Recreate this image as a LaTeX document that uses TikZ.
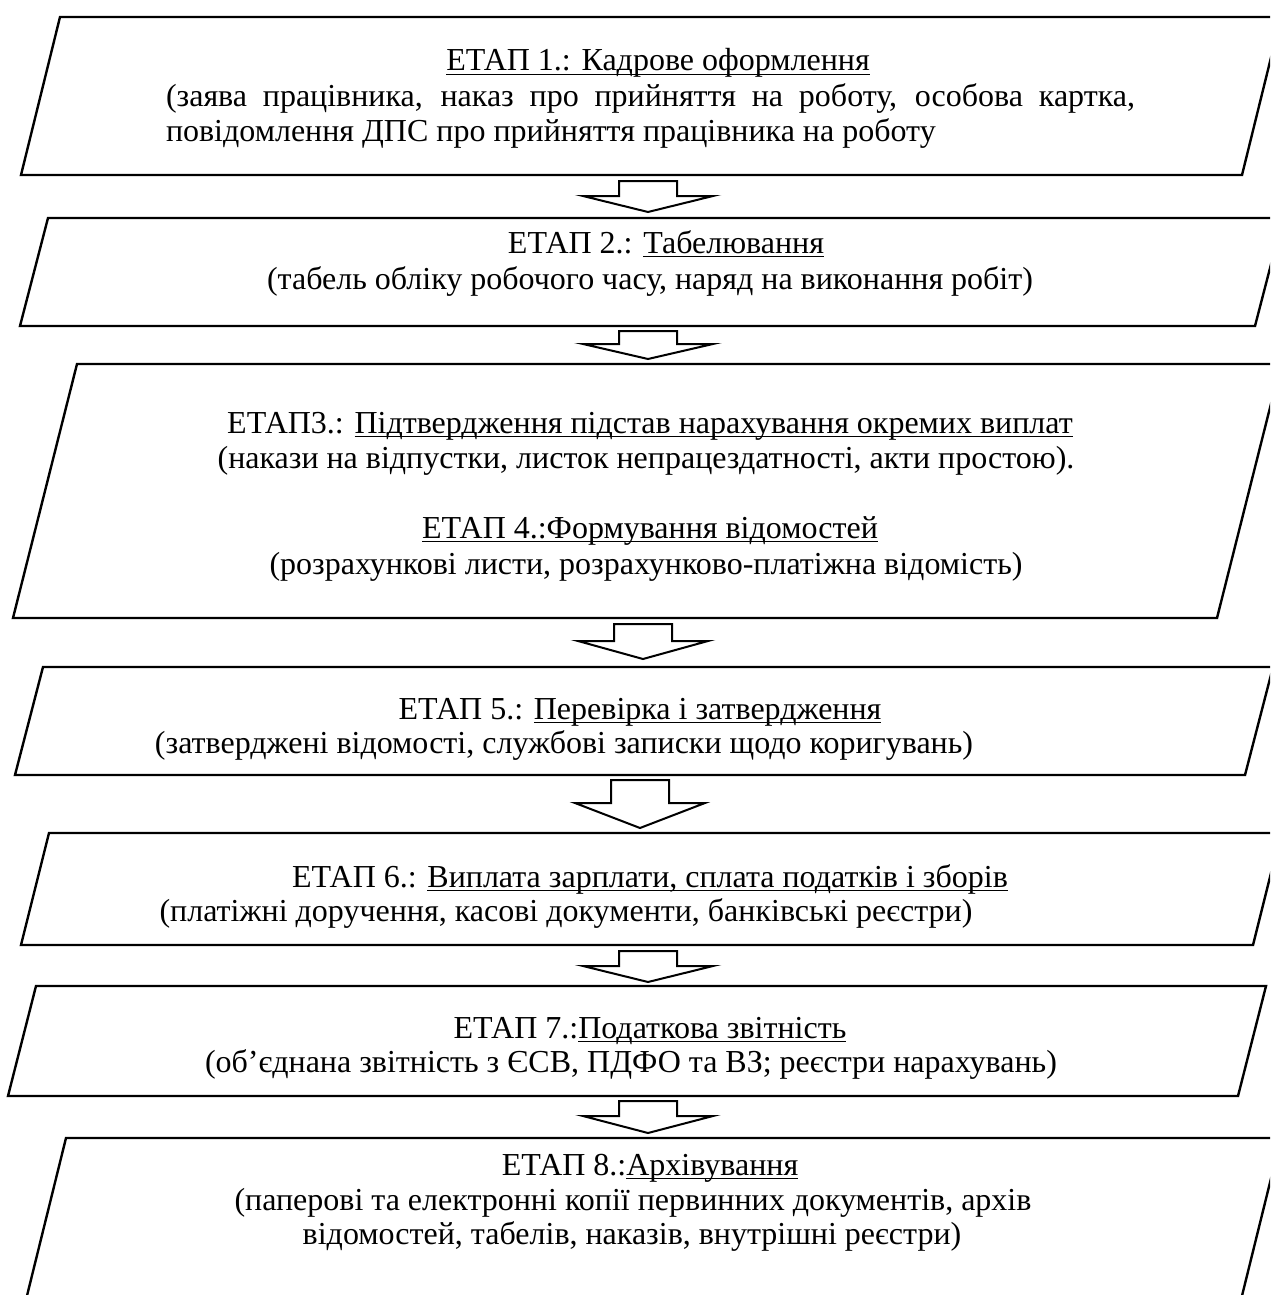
\documentclass[tikz,border=0pt]{standalone}
\usepackage{fontspec}
\setmainfont{Liberation Serif}
\newcommand\undl[1]{\setbox0=\hbox{#1}\rlap{\rule[-0.135em]{\wd0}{0.05em}}\box0}
\newcommand\blkarrow[5]{% name, cx, top, base, tip
  \coordinate (#1) at (#2,#3);
  \draw[barrow] ({#2-29},#3) -- ({#2+29},#3) -- ({#2+29},#4) -- ({#2+65},#4) -- (#2,#5) -- ({#2-65},#4) -- ({#2-29},#4) -- cycle;}
\begin{document}
\begin{tikzpicture}[x=1pt,y=-1pt,
  boxline/.style={draw=black, line width=2.4pt, line join=miter},
  barrow/.style={draw=black, line width=2pt, line join=miter, fill=white},
  txt/.style={anchor=base, inner sep=0pt, outer sep=0pt, font=\fontsize{32}{36}\selectfont},
  txtl/.style={txt, anchor=base west}]
\useasboundingbox (0,0) rectangle (1270,1295);
\clip (0,0) rectangle (1270,1295);
% boxes
\draw[boxline] (60,17) coordinate (b1) -- (1281,17) -- (1242,175) -- (21,175) -- cycle;
\draw[boxline] (48,218) coordinate (b2) -- (1283,218) -- (1255,326) -- (20,326) -- cycle;
\draw[boxline] (77,364) coordinate (b3) -- (1281,364) -- (1217,618) -- (13,618) -- cycle;
\draw[boxline] (43,667) coordinate (b4) -- (1273,667) -- (1245,775) -- (15,775) -- cycle;
\draw[boxline] (49,833) coordinate (b5) -- (1281,833) -- (1253,945) -- (21,945) -- cycle;
\draw[boxline] (36,986) coordinate (b6) -- (1266,986) -- (1238,1096) -- (8,1096) -- cycle;
\draw[boxline] (66,1138) coordinate (b7) -- (1281,1138) -- (1236,1320) -- (21,1320) -- cycle;
% arrows
\blkarrow{a1}{648}{181}{196}{212}
\blkarrow{a2}{648}{331}{344}{359}
\blkarrow{a3}{643}{624}{641}{659}
\blkarrow{a4}{640}{780}{803}{828}
\blkarrow{a5}{648}{951}{966}{982}
\blkarrow{a6}{648}{1101}{1116}{1133}
% texts
\node[txt] (t1a) at (658,71) {\undl{ЕТАП 1.: Кадрове оформлення}};
\node[txtl] (t1b) at (166,107) {\makebox[969pt][s]{(заява працівника, наказ про прийняття на роботу, особова картка,}};
\node[txtl] (t1c) at (166,142) {повідомлення ДПС про прийняття працівника на роботу};
\node[txt] (t2a) at (666,253) {ЕТАП 2.: \undl{Табелювання}};
\node[txt] (t2b) at (650,289) {(табель обліку робочого часу, наряд на виконання робіт)};
\node[txt] (t3a) at (650,433) {ЕТАП3.: \undl{Підтвердження підстав нарахування окремих виплат}};
\node[txt] (t3b) at (646,468) {(накази на відпустки, листок непрацездатності, акти простою).};
\node[txt] (t3c) at (650,538) {\undl{ЕТАП 4.:Формування відомостей}};
\node[txt] (t3d) at (646,574) {(розрахункові листи, розрахунково-платіжна відомість)};
\node[txt] (t4a) at (640,719) {ЕТАП 5.: \undl{Перевірка і затвердження}};
\node[txt] (t4b) at (564,753) {(затверджені відомості, службові записки щодо коригувань)};
\node[txt] (t5a) at (650,887) {ЕТАП 6.: \undl{Виплата зарплати, сплата податків і зборів}};
\node[txt] (t5b) at (566,921) {(платіжні доручення, касові документи, банківські реєстри)};
\node[txt] (t6a) at (650,1038) {ЕТАП 7.:\undl{Податкова звітність}};
\node[txt] (t6b) at (631,1072) {(об’єднана звітність з ЄСВ, ПДФО та ВЗ; реєстри нарахувань)};
\node[txt] (t7a) at (650,1175) {ЕТАП 8.:\undl{Архівування}};
\node[txt] (t7b) at (633,1210) {(паперові та електронні копії первинних документів, архів};
\node[txt] (t7c) at (632,1244) {відомостей, табелів, наказів, внутрішні реєстри)};
\end{tikzpicture}
\end{document}
